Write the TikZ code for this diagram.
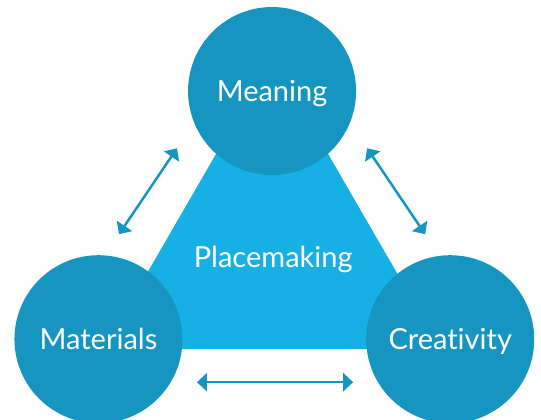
\documentclass[tikz,border=0pt]{standalone}
\usepackage{fontspec}
\setmainfont{Lato}[Ligatures=NoCommon]
\usepackage{tikz}
\usetikzlibrary{arrows.meta,positioning}

\definecolor{ringblue}{HTML}{1795C1}
\definecolor{coreblue}{HTML}{16B0E4}

\begin{document}
\begin{tikzpicture}[
        hub/.style={circle,fill=ringblue,minimum size=168pt,inner sep=0pt,text=white,
            font=\fontsize{29}{31}\selectfont,text height=20pt,text depth=0pt},
        link/.style={{Triangle[length=10pt,width=18pt]}-{Triangle[length=10pt,width=18pt]},
            line width=2.5pt,draw=ringblue}
    ]
            \useasboundingbox (0,0) rectangle (19.01,14.73);

            % Middle triangle
            \coordinate (apex) at (9.56,12.72);
            \coordinate (baseL) at (3.62,2.46);
            \coordinate (baseR) at (15.50,2.46);
            \fill[coreblue] (apex) -- (baseL) -- (baseR) -- cycle;
            \node[text=white,font=\fontsize{29}{31}\selectfont,text height=20pt,text depth=0pt] (core) at (9.60,5.69) {Placemaking};

            % Corner circles
            \node[hub] (meaning) at (9.56,11.53) {Meaning};
            \node[hub] (materials) at (3.46,2.81) {Materials};
            \node[hub] (creativity) at (15.82,2.81) {Creativity};

            % Invisible arrow ends
            \coordinate (leftLo) at (4.18,6.50);
            \coordinate (leftHi) at (6.22,9.52);
            \coordinate (rightHi) at (12.90,9.52);
            \coordinate (rightLo) at (14.94,6.50);
            \coordinate (bottomL) at (6.92,1.30);
            \coordinate (bottomR) at (12.41,1.30);

            % Arrows between circles
            \draw[link] (leftLo) -- (leftHi);
            \draw[link] (rightHi) -- (rightLo);
            \draw[link] (bottomL) -- (bottomR);

        \end{tikzpicture}
\end{document}
